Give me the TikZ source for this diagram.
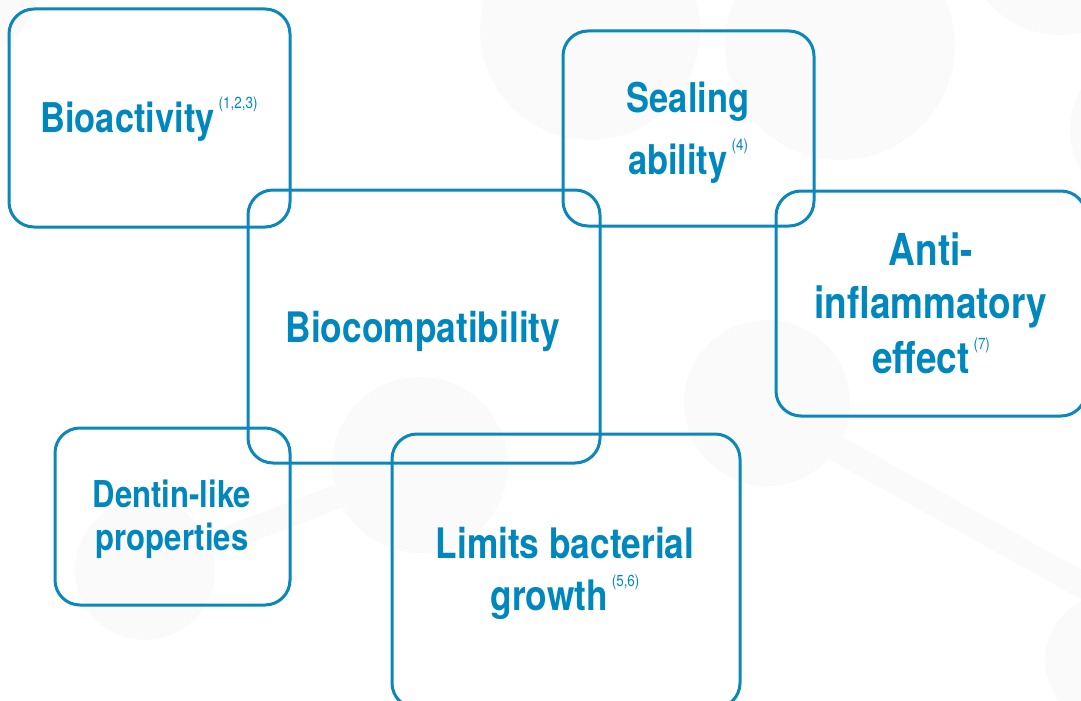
\documentclass[tikz,border=0pt]{standalone}
\usepackage{fontspec}
\setmainfont{TeX Gyre Heros}[FakeStretch=0.84]
\definecolor{boxblue}{HTML}{0B87B9}
\definecolor{txtblue}{HTML}{0088BE}
\definecolor{bgmol}{HTML}{FAFAFB}
\newcommand\refsup[1]{\hspace{4pt}\raisebox{24pt}{\fontsize{16}{16}\mdseries\selectfont(#1)}}
\begin{document}
\begin{tikzpicture}[x=1pt,y=-1pt,
  box/.style={draw=boxblue, line width=3pt, rounded corners=25pt, rectangle, inner sep=0pt},
  lbl/.style={anchor=base, text=txtblue, inner sep=0pt},
  mol/.style={fill=bgmol, draw=none},
  bond/.style={draw=bgmol, line cap=butt}]
\useasboundingbox (0,0) rectangle (1081,701);
\clip (0,0) rectangle (1081,701);
% faint molecule background
\draw[bond, line width=26pt] (767,410) -- (1100,595);
\draw[bond, line width=24pt] (145,570) -- (420,465);
\fill[mol] (840,45) circle (115pt);
\fill[mol] (1060,-60) circle (95pt);
\fill[mol] (1150,130) circle (80pt);
\fill[mol] (767,403) circle (83pt);
\fill[mol] (1110,660) circle (65pt);
\fill[mol] (145,570) circle (70pt);
\fill[mol] (420,465) circle (88pt);
\fill[mol] (590,30) circle (110pt);
\fill[mol] (-40,-20) circle (80pt);
% boxes
\node[box, minimum width=281pt, minimum height=218pt] (bioact) at (149.5,118) {};
\node[box, minimum width=251pt, minimum height=195pt] (seal) at (688.5,128.5) {};
\node[box, minimum width=352pt, minimum height=273pt] (biocomp) at (424,326.5) {};
\node[box, minimum width=310pt, minimum height=225pt] (anti) at (931,303.5) {};
\node[box, minimum width=235pt, minimum height=177pt] (dentin) at (172.5,516.5) {};
\node[box, minimum width=348pt, minimum height=274pt] (limits) at (566,571) {};
% labels
\node[lbl, font=\bfseries\fontsize{41}{41}\selectfont] (t1) at (149,132) {Bioactivity\refsup{1,2,3}};
\node[lbl, font=\bfseries\fontsize{41}{41}\selectfont] (t2a) at (688,112) {Sealing};
\node[lbl, font=\bfseries\fontsize{41}{41}\selectfont] (t2b) at (688,174) {ability\refsup{4}};
\node[lbl, font=\bfseries\fontsize{42}{42}\selectfont] (t3) at (423,342) {Biocompatibility};
\node[lbl, font=\bfseries\fontsize{44}{44}\selectfont] (t4a) at (931,265) {Anti-};
\node[lbl, font=\bfseries\fontsize{44}{44}\selectfont] (t4b) at (931,318) {inflammatory};
\node[lbl, font=\bfseries\fontsize{44}{44}\selectfont] (t4c) at (931,373) {effect\refsup{7}};
\node[lbl, font=\bfseries\fontsize{37}{37}\selectfont] (t5a) at (172,507) {Dentin-like};
\node[lbl, font=\bfseries\fontsize{37}{37}\selectfont] (t5b) at (172,550) {properties};
\node[lbl, font=\bfseries\fontsize{42}{42}\selectfont] (t6a) at (565,558) {Limits bacterial};
\node[lbl, font=\bfseries\fontsize{42}{42}\selectfont] (t6b) at (565,610) {growth\refsup{5,6}};
\end{tikzpicture}
\end{document}
